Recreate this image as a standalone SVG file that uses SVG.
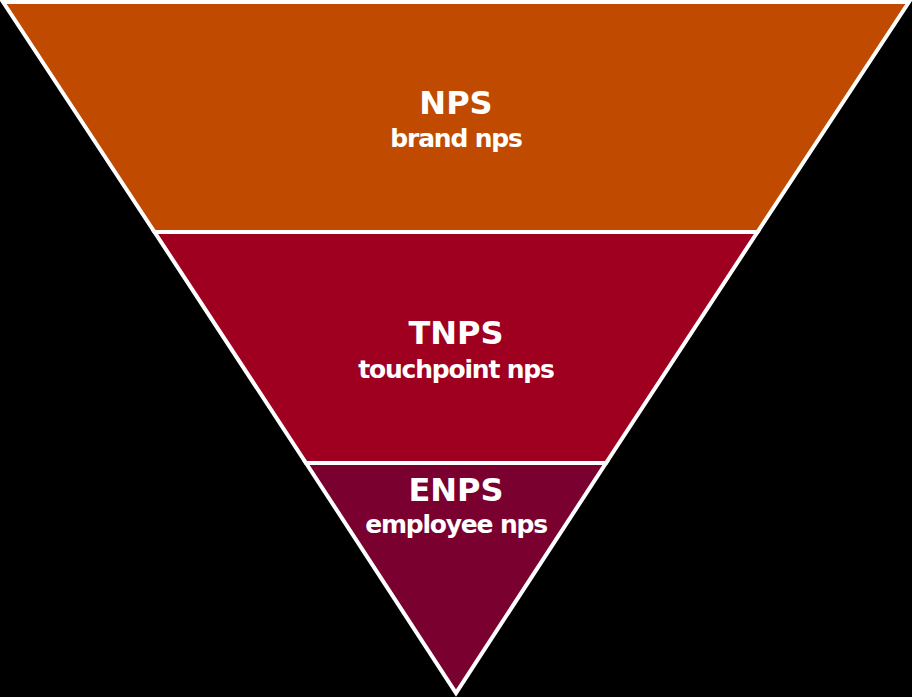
<svg xmlns="http://www.w3.org/2000/svg" width="912" height="697" viewBox="0 0 912 697">
<style>
.seg{stroke:#ffffff;stroke-width:4;stroke-linejoin:miter}
.t1{font-family:"DejaVu Sans",sans-serif;font-weight:bold;fill:#ffffff;text-anchor:middle;font-size:32px}
.t2{font-family:"DejaVu Sans",sans-serif;font-weight:bold;fill:#ffffff;text-anchor:middle;font-size:25px;letter-spacing:-1.2px}
</style>
<rect x="0" y="0" width="912" height="697" fill="#000000"/>
<g id="nps">
<polygon class="seg" fill="#C04B00" points="3,2 909,2 757.5,232 154.5,232"/>
<text class="t1" x="456" y="114">NPS</text>
<text class="t2" x="456" y="147">brand nps</text>
</g>
<g id="tnps">
<polygon class="seg" fill="#A00020" points="154.5,232 757.5,232 606,463 306,463"/>
<text class="t1" x="456" y="344">TNPS</text>
<text class="t2" x="456" y="378">touchpoint nps</text>
</g>
<g id="enps">
<polygon class="seg" fill="#7A0030" points="306,463 606,463 456,693"/>
<text class="t1" x="456" y="501">ENPS</text>
<text class="t2" x="456" y="533">employee nps</text>
</g>
<g id="connectors"></g>
</svg>
